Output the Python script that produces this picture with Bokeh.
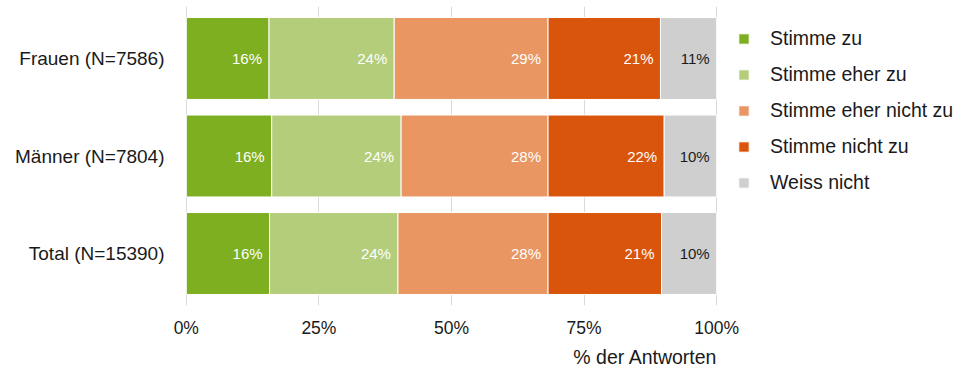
from bokeh.plotting import figure
from bokeh.models import (ColumnDataSource, FactorRange, Range1d, FixedTicker,
                          Legend, LegendItem, Title)
from bokeh.core.properties import value
from bokeh.embed import file_html
from bokeh.resources import INLINE

# ---- data ----
groups = ["Frauen (N=7586)", "Männer (N=7804)", "Total (N=15390)"]
responses = ["Stimme zu", "Stimme eher zu", "Stimme eher nicht zu",
             "Stimme nicht zu", "Weiss nicht"]
stimme_zu = [15.6, 16.1, 15.7]
stimme_eher_zu = [23.6, 24.4, 24.2]
stimme_eher_nicht_zu = [29.0, 27.7, 28.3]
stimme_nicht_zu = [21.2, 21.9, 21.4]
weiss_nicht = [10.6, 9.9, 10.4]
x_ticks = [0, 25, 50, 75, 100]
x_tick_labels = ["0%", "25%", "50%", "75%", "100%"]
x_axis_title = "% der Antworten"

# ---- styles ----
colors = ["#7DAF21", "#B3CD7A", "#E99663", "#D9550B", "#CFCFCF"]
label_colors = ["white", "white", "white", "white", "#1a1a1a"]
FONT = "Liberation Sans"
TXT = "#1a1a1a"

series = [stimme_zu, stimme_eher_zu, stimme_eher_nicht_zu, stimme_nicht_zu, weiss_nicht]
keys = ["s0", "s1", "s2", "s3", "s4"]
data = dict(group=groups)
for k, s in zip(keys, series):
    data[k] = s
src = ColumnDataSource(data)

yr = FactorRange(factors=groups[::-1], range_padding=0.022)
p = figure(y_range=yr, x_range=Range1d(-0.15, 100.15),
           frame_width=532, frame_height=299,
           min_border_left=185, min_border_right=238,
           min_border_top=6, min_border_bottom=59,
           output_backend="svg", toolbar_location=None)

rs = p.hbar_stack(keys, y="group", height=0.84, color=colors, source=src,
                  line_color="white", line_width=1)

# value labels at the right end of each segment
lx, ly, lt, lc = [], [], [], []
cum = [0.0] * len(groups)
for s, c in zip(series, label_colors):
    for i, v in enumerate(s):
        cum[i] += v
        lx.append(cum[i])
        ly.append(groups[i])
        lt.append(f"{round(v)}%")
        lc.append(c)
lsrc = ColumnDataSource(dict(x=lx, y=ly, t=lt, c=lc))
p.text(x="x", y="y", text="t", text_color="c", source=lsrc, x_offset=-7,
       text_align="right", text_baseline="middle",
       text_font=value(FONT), text_font_size="15px")

# legend
items = [LegendItem(label=lab, renderers=[r]) for lab, r in zip(responses, rs)]
legend = Legend(items=items, location=(20, 111), margin=0, padding=0,
                border_line_color=None, background_fill_alpha=0,
                glyph_width=13, glyph_height=13, label_standoff=20,
                label_height=22, spacing=13,
                label_text_font=FONT, label_text_font_size="19.5px",
                label_text_color=TXT, label_text_baseline="middle")
p.add_layout(legend, "right")

# axes & grid
p.outline_line_color = None
p.ygrid.grid_line_color = None
p.xgrid.ticker = FixedTicker(ticks=x_ticks)
p.xgrid.grid_line_color = "#DADADA"
p.xgrid.grid_line_width = 1

p.xaxis.ticker = FixedTicker(ticks=x_ticks)
p.xaxis.major_label_overrides = {t: l for t, l in zip(x_ticks, x_tick_labels)}
p.xaxis.axis_line_color = None
p.xaxis.major_tick_line_color = None
p.xaxis.minor_tick_line_color = None
p.xaxis.major_tick_out = 0
p.xaxis.major_tick_in = 0
p.xaxis.major_label_standoff = 12
p.xaxis.major_label_text_font = FONT
p.xaxis.major_label_text_font_size = "17.5px"
p.xaxis.major_label_text_color = TXT

p.yaxis.axis_line_color = None
p.yaxis.major_tick_line_color = None
p.yaxis.minor_tick_line_color = None
p.yaxis.major_tick_out = 0
p.yaxis.major_tick_in = 0
p.yaxis.major_label_standoff = 21
p.yaxis.major_label_text_font = FONT
p.yaxis.major_label_text_font_size = "19px"
p.yaxis.major_label_text_color = TXT

t = Title(text=x_axis_title, align="right", text_font=FONT,
          text_font_size="19.5px", text_font_style="normal",
          text_color=TXT, standoff=6, offset=0)
p.add_layout(t, "below")

open("out.html", "w").write(file_html(p, INLINE))
